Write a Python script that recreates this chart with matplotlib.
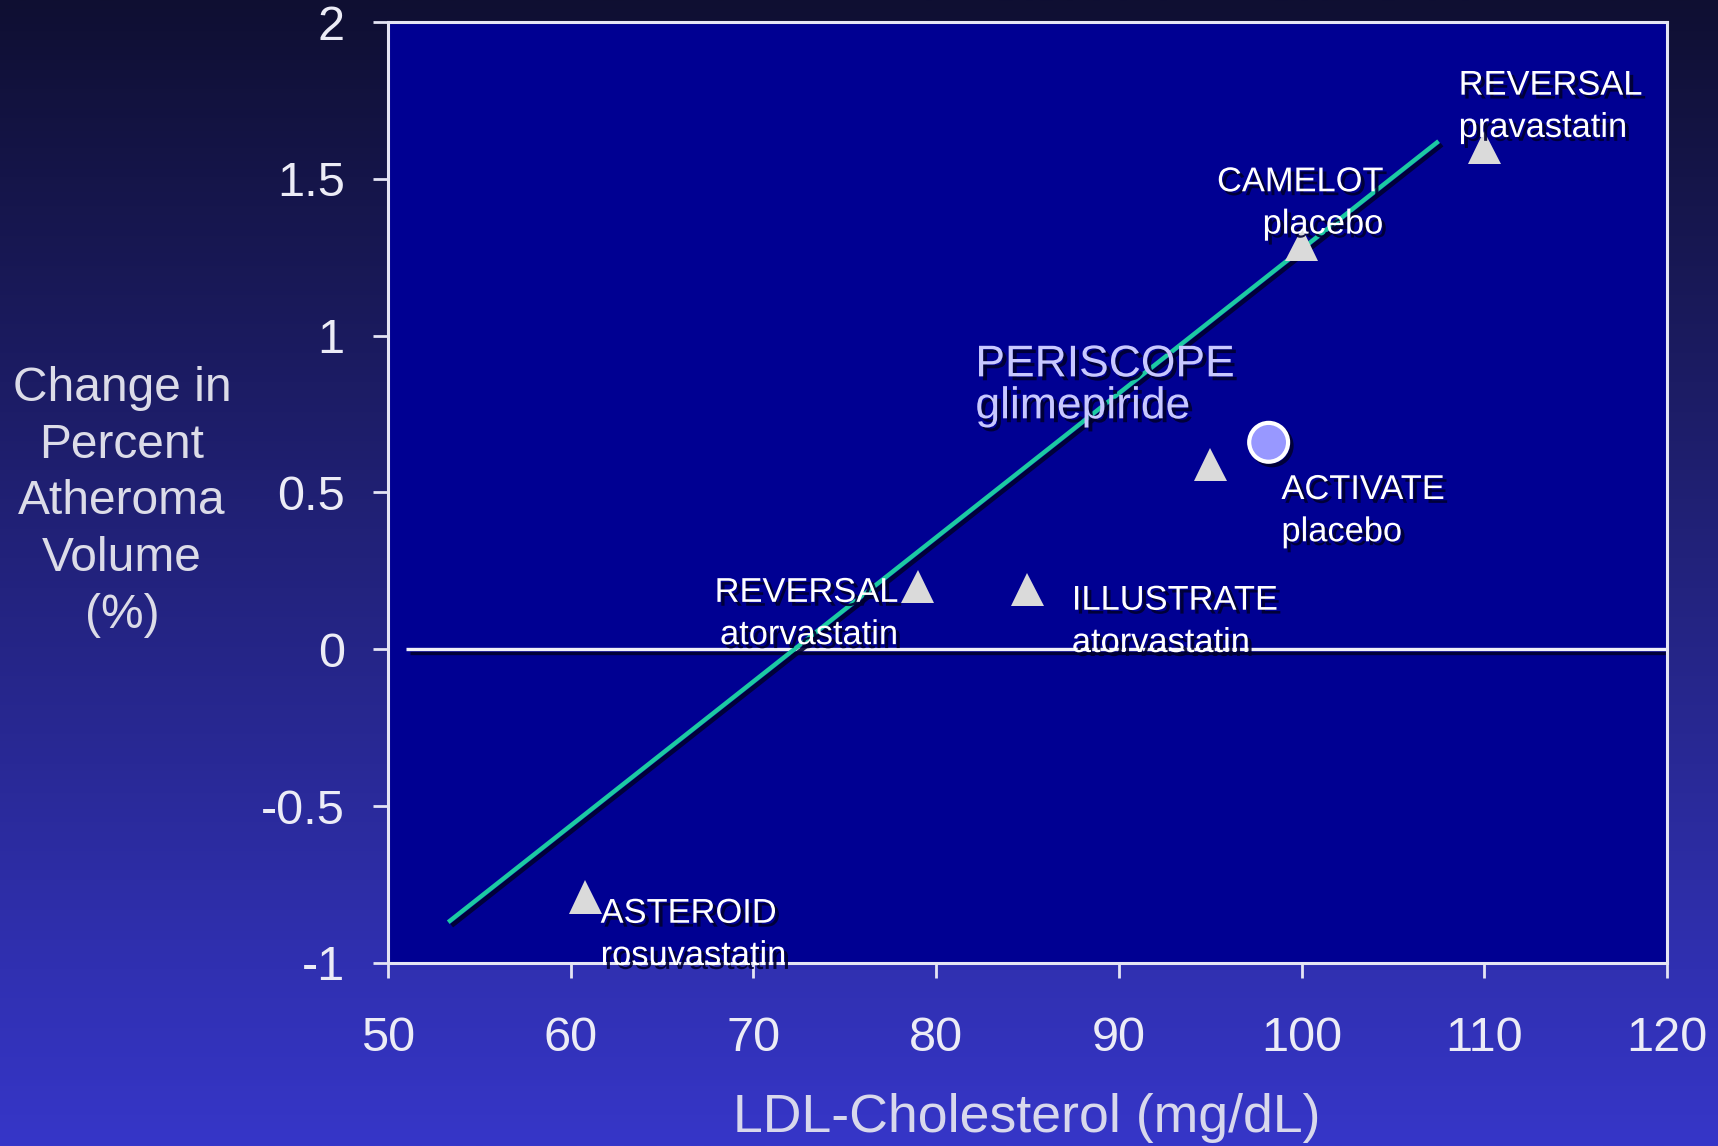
import numpy as np
import matplotlib
matplotlib.use("Agg")
import matplotlib.pyplot as plt
import matplotlib.patheffects as pe

plt.rcParams['font.family'] = ['Liberation Sans', 'DejaVu Sans']

# trials: LDL-C (mg/dL) vs change in percent atheroma volume (%)
trial_names = ["ASTEROID\nrosuvastatin", "REVERSAL\natorvastatin", "ILLUSTRATE\natorvastatin",
               "ACTIVATE\nplacebo", "CAMELOT\nplacebo", "REVERSAL\npravastatin"]
trial_ldl = [60.8, 79.0, 85.0, 95.0, 100.0, 110.0]
trial_pav = [-0.79, 0.20, 0.19, 0.59, 1.29, 1.60]

# PERISCOPE glimepiride arm
peri_name = "PERISCOPE\nglimepiride"
peri_ldl = [98.2]
peri_pav = [0.66]

# regression line end points
fit_ldl = [53.3, 107.5]
fit_pav = [-0.87, 1.62]

x_ticks = [50, 60, 70, 80, 90, 100, 110, 120]
y_ticks = [-1, -0.5, 0, 0.5, 1, 1.5, 2]
y_tick_labels = ["-1", "-0.5", "0", "0.5", "1", "1.5", "2"]

# label anchors (data coords) and alignment for each trial label
label_pos = [(61.64, -0.912, 'left'), (77.95, 0.111, 'right'), (87.43, 0.086, 'left'),
             (98.9, 0.439, 'left'), (104.5, 1.42, 'right'), (108.6, 1.728, 'left')]
peri_label_pos = (82.15, 0.84)

fig = plt.figure(figsize=(17.18, 11.46), dpi=100)

# slide background gradient
bg = fig.add_axes([0, 0, 1, 1], zorder=-10)
top = np.array([15, 15, 50]) / 255
bot = np.array([54, 54, 200]) / 255
t = np.linspace(0, 1, 400)[:, None]
grad = (top[None, :] * (1 - t) + bot[None, :] * t)[:, None, :]
bg.imshow(grad, aspect='auto', extent=[0, 1, 0, 1], origin='upper')
bg.axis('off')

ax = fig.add_axes([0.2258, 0.1597, 0.7445, 0.8211])
ax.set_facecolor('#000092')
ax.set_xlim(50, 120)
ax.set_ylim(-1, 2)

spine_c = '#e4e4f4'
for s in ax.spines.values():
    s.set_color(spine_c)
    s.set_linewidth(2.2)

ax.set_xticks(x_ticks)
ax.set_yticks(y_ticks)
ax.set_yticklabels(y_tick_labels)
ax.tick_params(axis='both', colors=spine_c, labelcolor='#ececf6', labelsize=35,
               length=11, width=2, direction='out')
ax.tick_params(axis='x', pad=27)
ax.tick_params(axis='y', pad=20)

shadow_line = [pe.SimpleLineShadow(offset=(2.5, -2.5), shadow_color='#000030', alpha=0.9), pe.Normal()]
shadow_text = [pe.SimplePatchShadow(offset=(2.8, -2.8), shadow_rgbFace='#000030', alpha=0.9), pe.Normal()]

# zero reference line
ax.hlines(0, 51, 120, color='#f0f0f8', lw=2.4, zorder=2, path_effects=shadow_line)

# fitted line
ax.plot(fit_ldl, fit_pav, color='#1ccaa2', lw=3.2, solid_capstyle='butt', zorder=3,
        path_effects=shadow_line)

# trial markers
ax.plot(trial_ldl, trial_pav, ls='none', marker='^', ms=24, color='#dadada',
        markeredgewidth=0, zorder=4, path_effects=shadow_line)
ax.plot(peri_ldl, peri_pav, ls='none', marker='o', ms=28, markerfacecolor='#9898ff',
        markeredgecolor='white', markeredgewidth=3, zorder=5, path_effects=shadow_line)

for name, (lx, ly, ha) in zip(trial_names, label_pos):
    ax.text(lx, ly, name, color='white', fontsize=24.8, ha=ha, va='center',
            multialignment=ha, linespacing=1.47, zorder=6, path_effects=shadow_text)

ax.text(peri_label_pos[0], peri_label_pos[1], peri_name, color='#c8c8ff', fontsize=32,
        ha='left', va='center', linespacing=1.03, zorder=6, path_effects=shadow_text)

fig.text(0.5977, 0.0244, "LDL-Cholesterol (mg/dL)", color='#d8d8ec', fontsize=38.6,
         ha='center', va='center')
fig.text(0.071, 0.5620, "Change in\nPercent\nAtheroma\nVolume\n(%)", color='#dcdce8',
         fontsize=34.5, ha='center', va='center', multialignment='center', linespacing=1.33)

fig.savefig('out.png', dpi=100)
